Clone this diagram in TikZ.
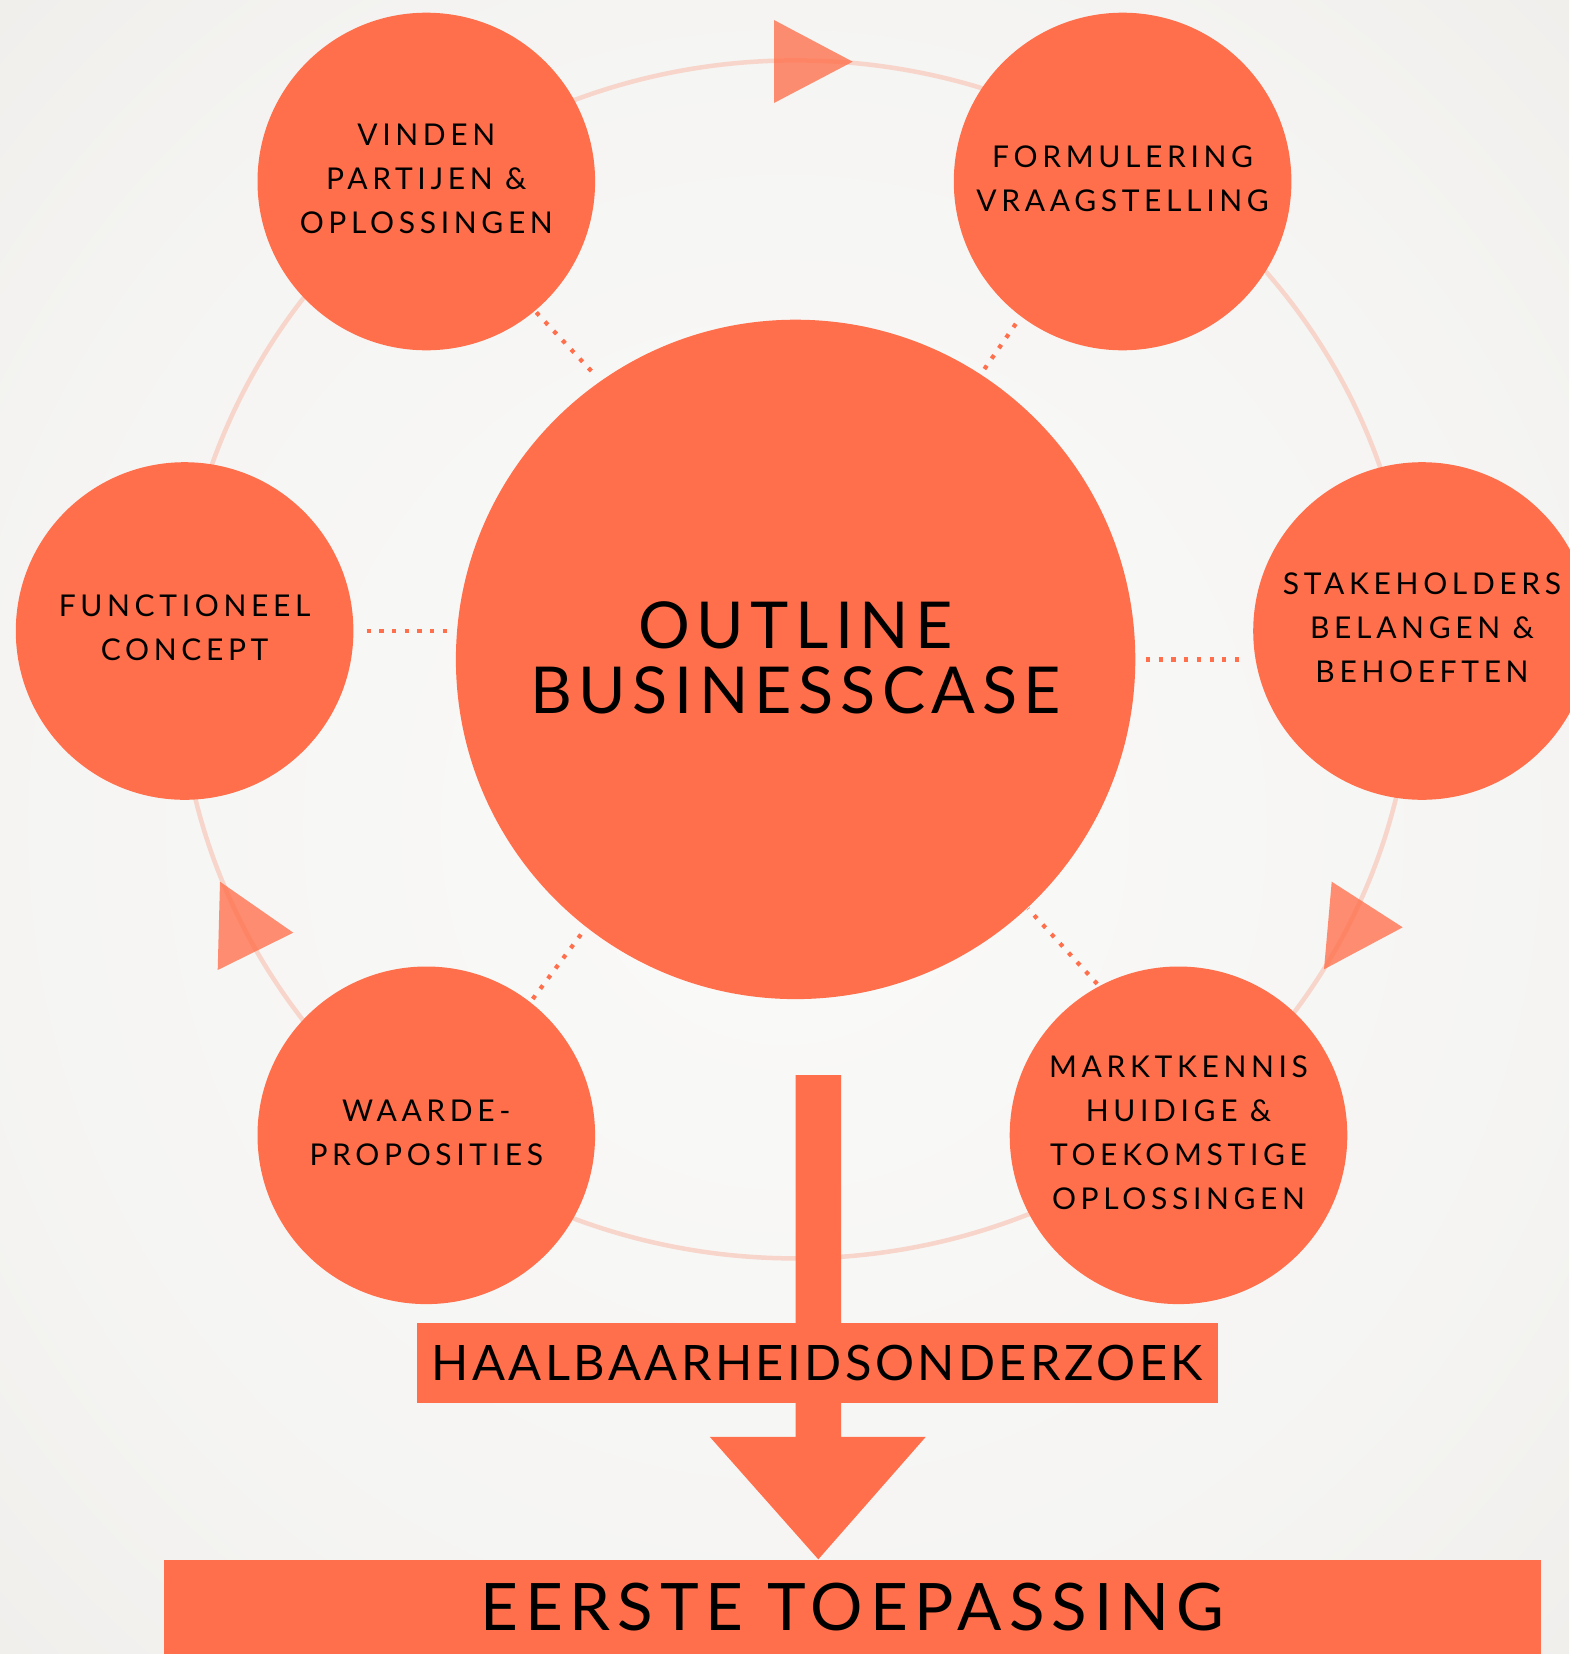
\documentclass[tikz,border=0pt]{standalone}
\usepackage{fontspec}
\setmainfont{Lato}
\usetikzlibrary{calc}
\definecolor{ora}{RGB}{255,111,75}
\definecolor{ringc}{RGB}{247,213,202}
\definecolor{bgin}{RGB}{250,250,249}
\definecolor{bgout}{RGB}{233,231,227}
\newfontfamily\smallfont[LetterSpace=15.5]{Lato}
\newfontfamily\bigfont[LetterSpace=10]{Lato}
\newfontfamily\haalfont[LetterSpace=7]{Lato}
\newfontfamily\eerstefont[LetterSpace=10.5]{Lato}
\pgfdeclareradialshading{bgshade}{\pgfpoint{0bp}{0bp}}{color(0bp)=(bgin); color(25bp)=(bgin!70!bgout); color(50bp)=(bgout)}
\tikzset{
  smallc/.style={circle, fill=ora, minimum size=337.6pt, inner sep=0pt, align=center,
    font=\smallfont\fontsize{30}{44}\selectfont, text=black, text depth=6pt},
  bigc/.style={circle, fill=ora, minimum size=679.4pt, inner sep=0pt, align=center,
    font=\bigfont\fontsize{64.7}{65.4}\selectfont, text=black, text depth=4pt},
  dotc/.style={draw=ora, line width=4.2pt, dash pattern=on 4.2pt off 8.5pt},
  tri/.style={fill=ora, opacity=0.78},
  boxc/.style={rectangle, fill=ora, inner sep=0pt, text=black}
}
\begin{document}
\begin{tikzpicture}[x=1pt,y=-1pt]
\useasboundingbox (0,0) rectangle (1569,1654);
\shade[shading=bgshade] (0,0) rectangle (1569,1654);
% ring
\draw[ringc, line width=4.5pt] (795.6,659.4) ellipse [x radius=617, y radius=599];
% direction triangles
\fill[tri] (774,20) -- (774,103) -- (852.7,61.7) -- cycle;
\fill[tri] (1331.7,881.7) -- (1324,969.3) -- (1402.7,927.3) -- cycle;
\fill[tri] (220,881.7) -- (217.7,970) -- (293.3,932.7) -- cycle;
% bottom boxes
\node[boxc, minimum width=1377pt, minimum height=95pt, font=\eerstefont\fontsize{65.5}{70}\selectfont] (et) at (852,1607) {EERSTE TOEPASSING};
% main arrow
\coordinate (as) at (818.3,1075);
\coordinate (tip) at (as |- et.north);
\fill[ora] ($(as)+(-22.75,0)$) -- ($(as)+(22.75,0)$) -- ($(tip)+(22.75,-122.5)$) -- ($(tip)+(107.5,-122.5)$)
  -- (tip) -- ($(tip)+(-108.5,-122.5)$) -- ($(tip)+(-22.75,-122.5)$) -- cycle;
\node[boxc, minimum width=800.8pt, minimum height=80pt, font=\haalfont\fontsize{48.8}{55}\selectfont] (hb) at (817.2,1363) {HAALBAARHEIDSONDERZOEK};
% circles
\node[bigc] (ob) at (795.6,659.4) {OUTLINE\\BUSINESSCASE};
\node[smallc] (vi) at (426.3,181.5) {VINDEN\\PARTIJEN \&\\OPLOSSINGEN};
\node[smallc] (fo) at (1122.6,181.5) {FORMULERING\\VRAAGSTELLING};
\node[smallc] (fu) at (184.6,631) {FUNCTIONEEL\\CONCEPT};
\node[smallc] (st) at (1422,631) {STAKEHOLDERS\\BELANGEN \&\\BEHOEFTEN};
\node[smallc] (wa) at (426.3,1135.3) {WAARDE-\\PROPOSITIES};
\node[smallc] (ma) at (1178.5,1135.3) {MARKTKENNIS\\HUIDIGE \&\\TOEKOMSTIGE\\OPLOSSINGEN};
% dotted connectors
\draw[dotc, shorten <=2pt, shorten >=6pt] (vi.-50) -- (ob.125);
\draw[dotc, shorten <=9pt, shorten >=6pt] (fo.-127) -- (ob.57.6);
\draw[dotc, shorten <=13pt, shorten >=3pt] (fu.east) -- (fu.east -| ob.west);
\draw[dotc, shorten <=10.5pt, shorten >=8pt] (ob.east) -- (ob.east -| st.west);
\draw[dotc, shorten <=4pt, shorten >=4pt] (wa.52) -- (ob.-128);
\draw[dotc, shorten <=3pt, shorten >=1pt] (ma.118) -- (ob.-47);
\end{tikzpicture}
\end{document}
